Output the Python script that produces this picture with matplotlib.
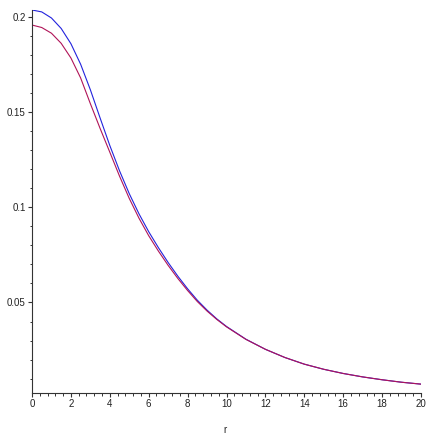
import matplotlib
matplotlib.use("Agg")
import matplotlib.pyplot as plt
from matplotlib.ticker import FixedLocator, FixedFormatter, MultipleLocator

r = [0, 0.5, 1, 1.5, 2, 2.5, 3, 3.5, 4, 4.5, 5, 5.5, 6, 6.5, 7, 7.5, 8,
     8.5, 9, 9.5, 10, 11, 12, 13, 14, 15, 16, 17, 18, 19, 20]
blue_vals = [0.2037, 0.2027, 0.1995, 0.1940, 0.1860, 0.1752, 0.1618, 0.1470,
             0.1325, 0.1192, 0.1072, 0.0966, 0.0872, 0.0788, 0.0710, 0.0638,
             0.0572, 0.0512, 0.0460, 0.0414, 0.0374, 0.0307, 0.0254, 0.0211,
             0.0176, 0.0149, 0.0127, 0.0109, 0.0094, 0.0081, 0.0071]
red_vals = [0.1958, 0.1945, 0.1915, 0.1862, 0.1785, 0.1680, 0.1545, 0.1415,
            0.1290, 0.1164, 0.1047, 0.0943, 0.0851, 0.0770, 0.0695, 0.0626,
            0.0563, 0.0505, 0.0455, 0.0411, 0.0372, 0.0306, 0.0254, 0.0211,
            0.0176, 0.0149, 0.0127, 0.0109, 0.0094, 0.0081, 0.0071]

x_ticks = [0, 2, 4, 6, 8, 10, 12, 14, 16, 18, 20]
x_tick_labels = [str(t) for t in x_ticks]
y_ticks = [0.05, 0.1, 0.15, 0.2]
y_tick_labels = ["0.05", "0.1", "0.15", "0.2"]
x_label = "r"

plt.rcParams['font.family'] = ['Liberation Sans', 'DejaVu Sans']

W = 436
fig = plt.figure(figsize=(W / 100, W / 100), dpi=100)
left_px, right_px, top_px, bottom_px = 32, 421, 10, 392.7
ax = fig.add_axes([left_px / W, 1 - bottom_px / W,
                   (right_px - left_px) / W, (bottom_px - top_px) / W])

ax.plot(r, blue_vals, color='#2222DD', lw=0.8, solid_joinstyle='round')
ax.plot(r, red_vals, color='#B01458', lw=0.8, solid_joinstyle='round')

ax.set_xlim(0, 20)
ax.set_ylim(0.0026, 0.2037)

for s in ['top', 'right']:
    ax.spines[s].set_visible(False)
for s in ['left', 'bottom']:
    ax.spines[s].set_color('#333333')
    ax.spines[s].set_linewidth(0.8)

ax.xaxis.set_major_locator(FixedLocator(x_ticks))
ax.xaxis.set_major_formatter(FixedFormatter(x_tick_labels))
ax.xaxis.set_minor_locator(MultipleLocator(0.4))
ax.yaxis.set_major_locator(FixedLocator(y_ticks))
ax.yaxis.set_major_formatter(FixedFormatter(y_tick_labels))
ax.yaxis.set_minor_locator(MultipleLocator(0.01))

ax.tick_params(which='major', direction='out', length=3, width=0.8,
               color='#333333', labelsize=7, labelcolor='#222222', pad=1.5)
ax.tick_params(which='minor', direction='out', length=1.8, width=0.7,
               color='#333333')

ax.set_xlabel(x_label, fontsize=7, color='#222222')
ax.xaxis.set_label_coords(0.496, -0.084)

fig.savefig('out.png', dpi=100)
